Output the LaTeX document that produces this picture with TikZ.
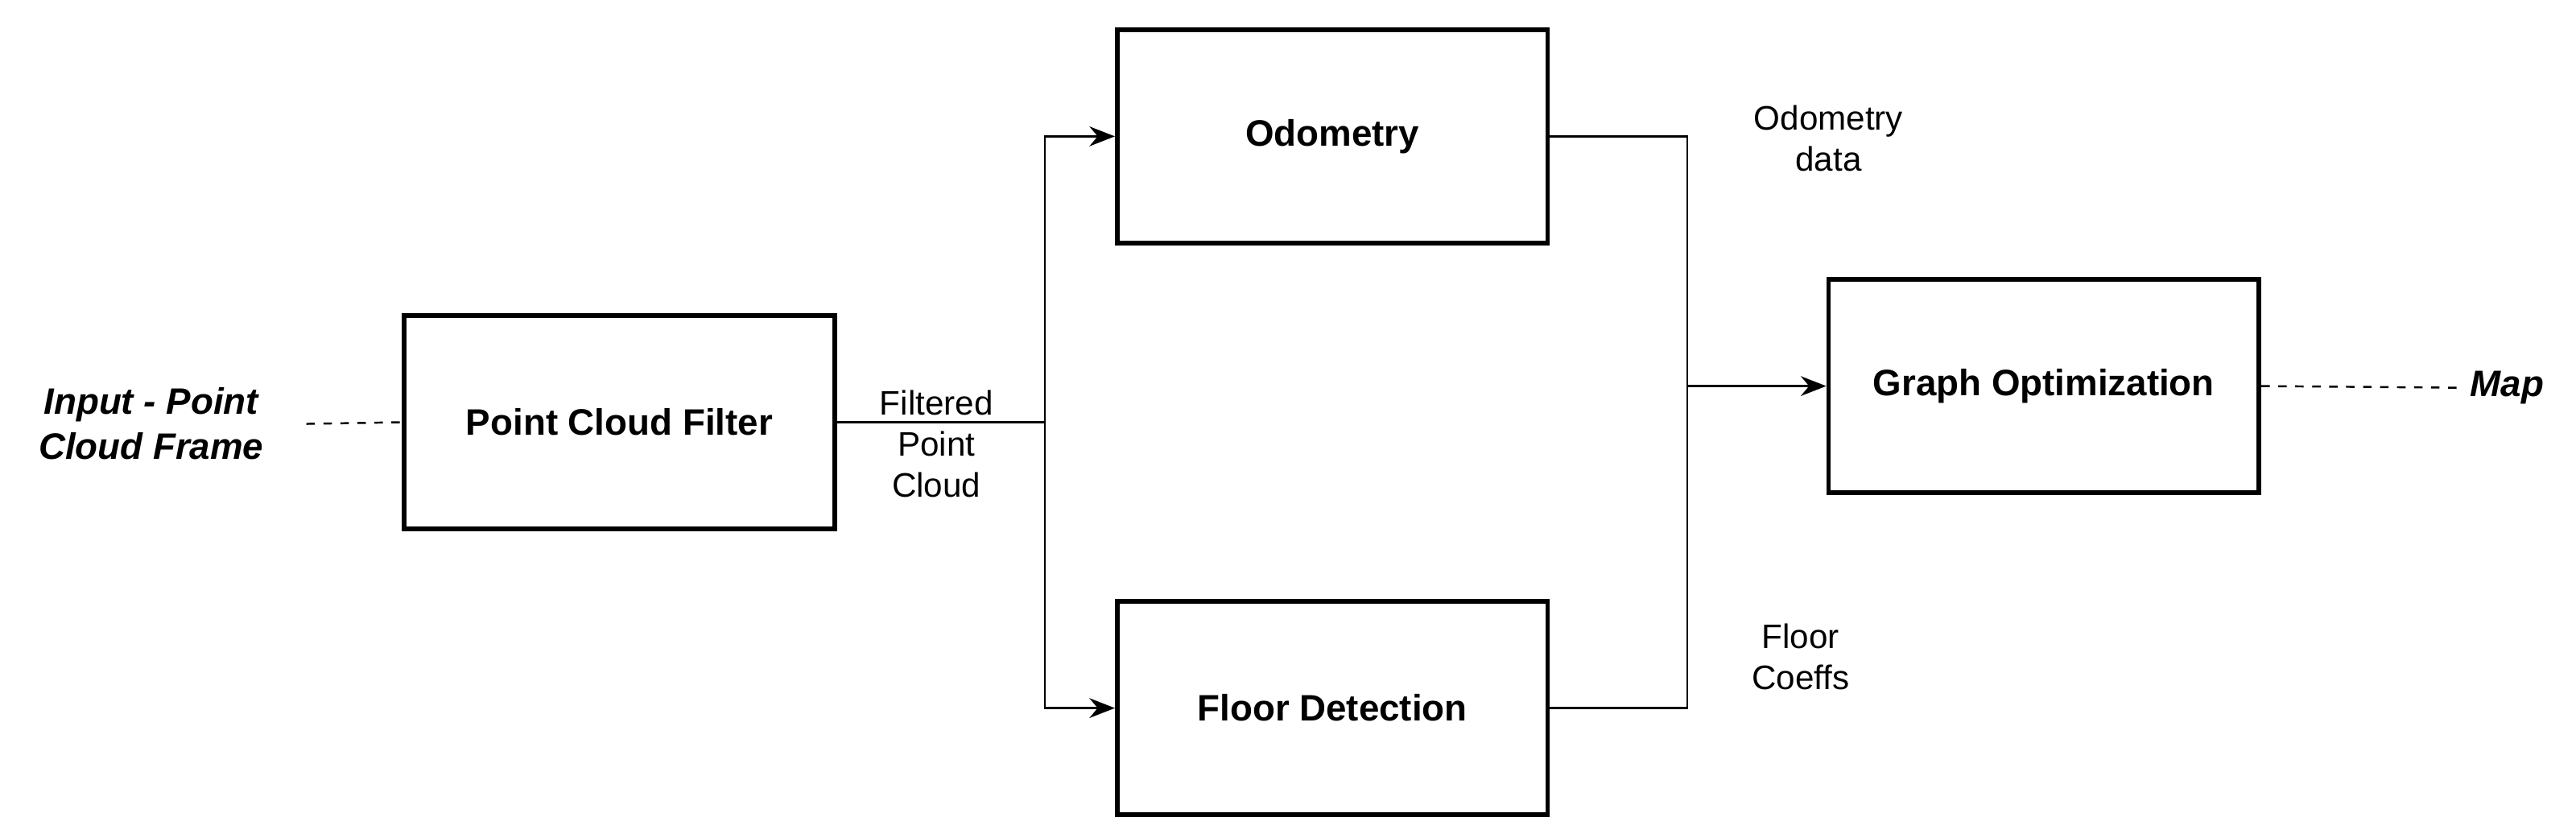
\documentclass[tikz,border=0pt]{standalone}
\usepackage{fontspec}
\setmainfont{Liberation Sans}
\usetikzlibrary{arrows.meta}
\begin{document}
\begin{tikzpicture}[x=0.0204cm,y=-0.0204cm,
    blk/.style={draw,line width=1.6pt,minimum width=262*0.0204cm,minimum height=130*0.0204cm,font=\fontsize{13}{16}\selectfont\bfseries},
    lbl/.style={font=\fontsize{12}{14.5}\selectfont,align=center},
    wire/.style={line width=0.7pt},
    arr/.style={wire,-{Stealth[length=9pt,width=7pt]}}]
  \useasboundingbox (0,0) rectangle (1568,510);
  \node[blk] (pcf) at (377,257) {Point Cloud Filter};
  \node[blk] (odo) at (811,83) {Odometry};
  \node[blk] (flo) at (811,431) {Floor Detection};
  \node[blk] (gro) at (1244,235) {Graph Optimization};
  \node[lbl,font=\fontsize{13}{16}\selectfont\bfseries\itshape] (inp) at (92,258) {Input - Point\\Cloud Frame};
  \node[lbl,font=\fontsize{13}{16}\selectfont\bfseries\itshape] (map) at (1526,236) {Map};
  \node[lbl] (fpc) at (570,270) {Filtered\\Point\\Cloud};
  \node[lbl] (odd) at (1113,84) {Odometry\\data};
  \node[lbl] (flc) at (1096,400) {Floor\\Coeffs};
  \coordinate (split) at (636,257);
  \coordinate (join) at (1027,235);
  \draw[wire,dashed] (inp.east) ++(20,0) coordinate (ie) -- (pcf.west);
  \draw[wire] (pcf.east) -- (split);
  \draw[arr] (split) |- (odo.west);
  \draw[arr] (split) |- (flo.west);
  \draw[wire] (odo.east) -| (join);
  \draw[wire] (flo.east) -| (join);
  \draw[arr] (join) -- (gro.west);
  \draw[wire,dashed] (gro.east) -- (map.west);
\end{tikzpicture}
\end{document}
